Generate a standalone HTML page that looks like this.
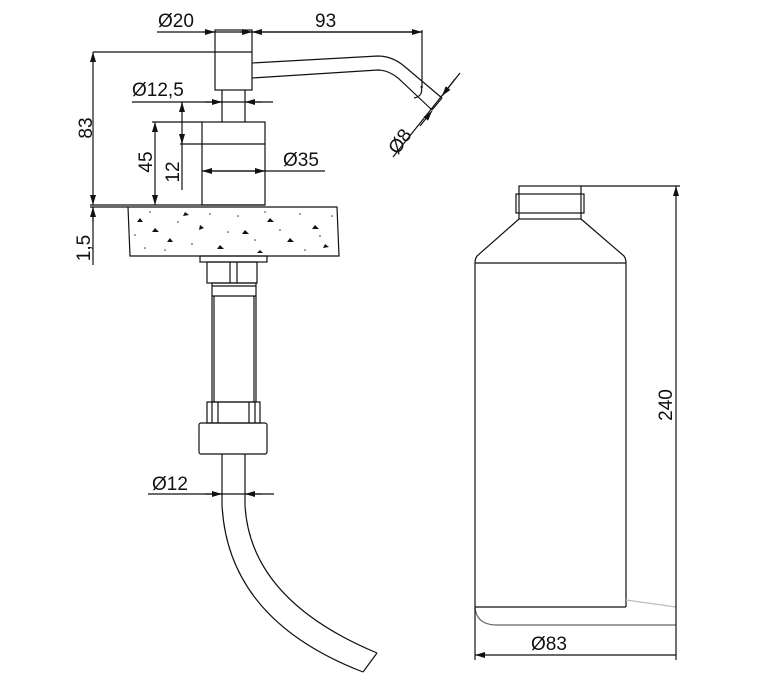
<!DOCTYPE html>
<html><head><meta charset="utf-8"><style>
html,body{margin:0;padding:0;background:#fff}
svg{display:block}
text{font-family:"Liberation Sans",sans-serif;font-size:19px;fill:#111}
</style></head><body>
<svg width="763" height="674" viewBox="0 0 763 674" xmlns="http://www.w3.org/2000/svg">
<defs>
<marker id="a" viewBox="0 0 10 6" refX="10" refY="3" markerWidth="10" markerHeight="6" orient="auto-start-reverse" markerUnits="userSpaceOnUse"><path d="M0,0 L10,3 L0,6 z" fill="#111"/></marker>
</defs>
<g stroke="#111" stroke-width="1.2" fill="none">
<line x1="157" y1="32" x2="422" y2="32"/>
<line x1="203" y1="32" x2="215" y2="32" marker-end="url(#a)"/>
<line x1="240" y1="32" x2="252" y2="32" marker-end="url(#a)"/>
<line x1="252" y1="32" x2="422" y2="32" marker-start="url(#a)" marker-end="url(#a)"/>
<line x1="422" y1="30" x2="422" y2="88"/>
<rect x="215" y="30" width="37" height="60"/>
<path d="M252,63 L378,56 Q392,56 404,66 L442,98"/>
<path d="M252,78 L378,70 Q388,70 398,78 L432,110"/>
<line x1="442" y1="98" x2="432" y2="110"/>
<path d="M421,86 Q424,96 414,98"/>
<line x1="460" y1="73" x2="393" y2="157"/>
<line x1="455" y1="79" x2="442" y2="96" marker-end="url(#a)"/>
<line x1="420" y1="126" x2="432" y2="111" marker-end="url(#a)"/>
<line x1="93" y1="52" x2="252" y2="52"/>
<line x1="93" y1="52" x2="93" y2="205" marker-start="url(#a)" marker-end="url(#a)"/>
<line x1="132" y1="102" x2="273" y2="102"/>
<line x1="205" y1="102" x2="222" y2="102" marker-end="url(#a)"/>
<line x1="262" y1="102" x2="245" y2="102" marker-end="url(#a)"/>
<line x1="222" y1="90" x2="222" y2="122"/>
<line x1="245" y1="90" x2="245" y2="122"/>
<rect x="202" y="122" width="63" height="83"/>
<line x1="152" y1="122" x2="202" y2="122"/>
<line x1="180" y1="144" x2="265" y2="144"/>
<line x1="155" y1="122" x2="155" y2="205" marker-start="url(#a)" marker-end="url(#a)"/>
<line x1="182" y1="102" x2="182" y2="190"/>
<line x1="182" y1="112" x2="182" y2="102" marker-end="url(#a)"/>
<line x1="182" y1="134" x2="182" y2="144" marker-end="url(#a)"/>
<line x1="202" y1="171" x2="325" y2="171"/>
<line x1="202" y1="171" x2="265" y2="171" marker-start="url(#a)" marker-end="url(#a)"/>
<line x1="90" y1="205" x2="265" y2="205"/>
<line x1="90" y1="207" x2="128" y2="207"/>
<path d="M128,207 L337,207 L339,256 L130,256 Z"/>
<line x1="93" y1="207" x2="93" y2="265"/>
<line x1="93" y1="222" x2="93" y2="207" marker-end="url(#a)"/>
<rect x="200" y="256" width="67" height="6"/>
<rect x="207" y="262" width="50" height="21"/>
<line x1="230" y1="262" x2="230" y2="283"/>
<line x1="237" y1="262" x2="237" y2="283"/>
<rect x="212" y="283" width="44" height="119"/>
<line x1="212" y1="286" x2="256" y2="286"/>
<line x1="212" y1="296" x2="256" y2="296"/>
<line x1="214" y1="296" x2="214" y2="402"/>
<line x1="254" y1="296" x2="254" y2="402"/>
<rect x="207" y="402" width="53" height="21"/>
<line x1="212" y1="402" x2="212" y2="423"/>
<line x1="218" y1="402" x2="218" y2="423"/>
<line x1="249" y1="402" x2="249" y2="423"/>
<line x1="255" y1="402" x2="255" y2="423"/>
<rect x="199" y="423" width="68" height="31" rx="2"/>
<path d="M222,454 L222,505 Q228,620 363,672"/>
<path d="M245,454 L245,505 Q250,600 377,653"/>
<line x1="377" y1="653" x2="363" y2="672"/>
<line x1="148" y1="494" x2="274" y2="494"/>
<line x1="205" y1="494" x2="222" y2="494" marker-end="url(#a)"/>
<line x1="262" y1="494" x2="245" y2="494" marker-end="url(#a)"/>
<rect x="519" y="186" width="62" height="33"/>
<rect x="516" y="194" width="68" height="19"/>
<path d="M519,219 L477,256 Q475,259 475,263 L475,607 M581,219 L624,256 Q626,259 626,263 L626,607"/>
<line x1="475" y1="263" x2="626" y2="263"/>
<line x1="475" y1="607" x2="626" y2="607"/>
<path d="M475,607 Q476,624 495,625 L676,625" stroke="#666"/>
<line x1="626" y1="600" x2="676" y2="607" stroke="#bbb"/>
<line x1="581" y1="186" x2="680" y2="186"/>
<line x1="676" y1="186" x2="676" y2="660" marker-start="url(#a)"/>
<line x1="475" y1="607" x2="475" y2="660"/>
<line x1="475" y1="655" x2="676" y2="655" marker-start="url(#a)"/>
</g>
<g fill="#111">
<polygon points="140,218 143,222 137,222"/><polygon points="155,228 159,232 152,232"/><polygon points="170,238 173,242 167,242"/>
<polygon points="200,225 204,228 199,230"/><polygon points="220,245 224,249 217,249"/><polygon points="245,230 249,234 242,234"/>
<polygon points="270,218 274,222 267,222"/><polygon points="290,238 294,242 287,242"/><polygon points="315,225 319,229 312,229"/>
<polygon points="325,244 329,247 323,248"/><polygon points="185,212 189,215 183,216"/><polygon points="260,250 263,253 257,253"/>
</g>
<g fill="#333">
<circle cx="135" cy="235" r=".8"/><circle cx="150" cy="212" r=".8"/><circle cx="165" cy="250" r=".8"/><circle cx="178" cy="222" r=".8"/>
<circle cx="192" cy="244" r=".8"/><circle cx="210" cy="214" r=".8"/><circle cx="228" cy="232" r=".8"/><circle cx="238" cy="216" r=".8"/>
<circle cx="255" cy="240" r=".8"/><circle cx="280" cy="230" r=".8"/><circle cx="300" cy="214" r=".8"/><circle cx="305" cy="250" r=".8"/>
<circle cx="320" cy="236" r=".8"/><circle cx="332" cy="216" r=".8"/><circle cx="145" cy="248" r=".8"/><circle cx="265" cy="212" r=".8"/>
</g>
<text x="158" y="27">Ø20</text>
<text x="315" y="27">93</text>
<text x="132" y="96">Ø12,5</text>
<text x="283" y="166">Ø35</text>
<text x="152" y="490">Ø12</text>
<text x="531" y="650">Ø83</text>
<text transform="translate(92,128) rotate(-90)" text-anchor="middle">83</text>
<text transform="translate(152,162) rotate(-90)" text-anchor="middle">45</text>
<text transform="translate(179,172) rotate(-90)" text-anchor="middle">12</text>
<text transform="translate(90,248) rotate(-90)" text-anchor="middle">1,5</text>
<text transform="translate(672,405) rotate(-90)" text-anchor="middle">240</text>
<text transform="translate(405,145) rotate(-55)" text-anchor="middle">Ø8</text>
</svg>
</body></html>
